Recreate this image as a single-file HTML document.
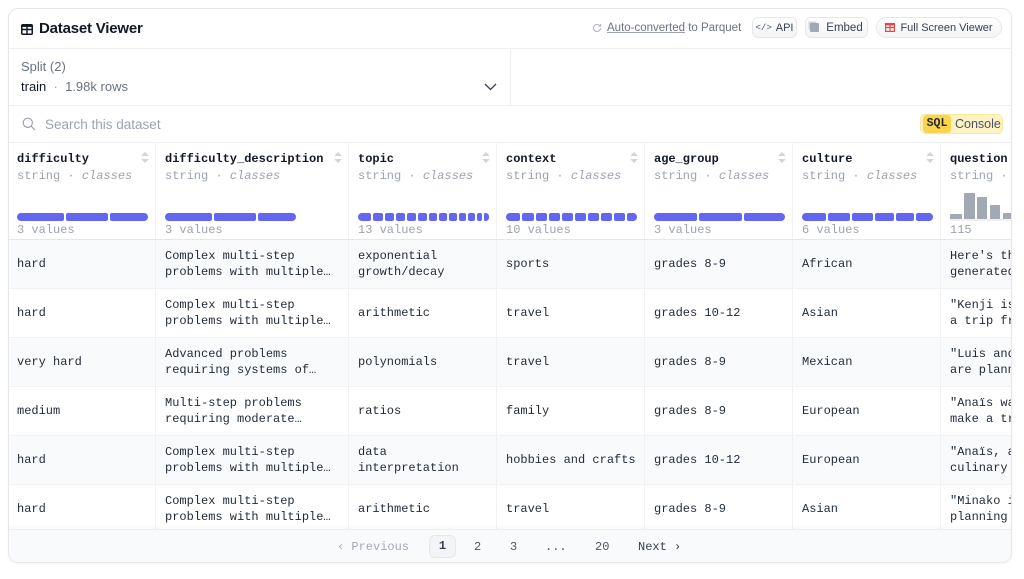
<!DOCTYPE html>
<html><head><meta charset="utf-8"><style>
*{box-sizing:border-box;margin:0;padding:0}
body{width:1024px;height:579px;background:#fff;position:relative;overflow:hidden;font-family:"Liberation Sans",sans-serif;color:#111827}
.card{position:absolute;left:8px;top:8px;width:1004px;height:555px;overflow:hidden;border-radius:10px;background:#fff}
.cardb{position:absolute;left:8px;top:8px;width:1004px;height:555px;border:1px solid #e5e7eb;border-radius:10px;pointer-events:none;box-shadow:0 1px 2px rgba(0,0,0,0.04)}
.a{position:absolute;white-space:nowrap}
.hl{position:absolute;left:0;width:1004px;height:1px;background:#eceef1}
.mono{font-family:"Liberation Mono",monospace;font-size:12px;line-height:16px}
.row{position:absolute;left:0;width:1300px;height:49px;display:flex;border-bottom:1px solid #f1f2f4}
.row.g{background:#f9fafb}
.c{flex-shrink:0;height:100%;border-right:1px solid #f1f2f4;padding:0 9px;display:flex;align-items:center;white-space:pre;color:#1f2937;overflow:hidden}
.w1{width:148px}.w2{width:193px}.w3{width:148px}.w4{width:148px}.w5{width:148px}.w6{width:148px}.w7{width:200px}
.hdr{position:absolute;left:0;top:134px;width:1300px;height:98px;display:flex;border-bottom:1px solid #e5e7eb;box-shadow:0 1px 2px rgba(0,0,0,0.03)}
.hc{flex-shrink:0;height:100%;border-right:1px solid #f1f2f4;position:relative}
.nm{position:absolute;left:9px;top:9px;font-weight:bold;color:#111827}
.ty{position:absolute;left:9px;top:26px;color:#9ca3af}
.ty i{font-style:italic}
.vl{position:absolute;left:9px;top:80px;color:#9ca3af}
.bar{position:absolute;left:9px;top:71px;height:8px;display:flex;gap:2px}
.bar span{display:block;flex-shrink:0;height:8px;background:#6366f1;border-radius:2px}
.bar span:first-child{border-radius:4px 2px 2px 4px}
.bar span:last-child{border-radius:2px 4px 4px 2px}
.sort{position:absolute;right:6px;top:10px;width:8px;height:11px}
.btn{position:absolute;top:9px;height:21px;border:1px solid #e5e7eb;border-radius:6px;background:linear-gradient(#fff,#f3f4f6);font-size:11.5px;color:#374151;display:flex;align-items:center;justify-content:center;padding:0;gap:5px;white-space:nowrap}
.btn *{flex-shrink:0}
</style></head><body>
<div class="card">
  <!-- header -->
  <svg class="a" style="left:13px;top:16px" width="12" height="11" viewBox="0 0 12 11"><rect x="0.75" y="0.75" width="10.5" height="9.5" rx="1" fill="none" stroke="#111827" stroke-width="1.5"/><line x1="0.75" y1="5.5" x2="11.25" y2="5.5" stroke="#111827" stroke-width="1.4"/><line x1="6" y1="0.75" x2="6" y2="10.25" stroke="#111827" stroke-width="1.4"/><rect x="0.75" y="0.75" width="10.5" height="2.2" fill="#111827"/></svg>
  <div class="a" style="left:31px;top:12px;font-size:15px;font-weight:bold;line-height:18px;color:#111827;letter-spacing:-0.2px">Dataset Viewer</div>
  <svg class="a" style="left:584px;top:15px" width="10" height="10" viewBox="0 0 10 10"><path d="M8.5 5a3.5 3.5 0 1 1-1-2.5" fill="none" stroke="#b6bbc4" stroke-width="1.2"/><path d="M8.6 1v2.2H6.4" fill="none" stroke="#b6bbc4" stroke-width="1.2"/></svg>
  <div class="a" style="left:599px;top:13px;font-size:11.5px;line-height:14px;color:#6b7280"><span style="text-decoration:underline;text-decoration-color:#9ca3af">Auto-converted</span> to Parquet</div>
  <div class="btn" style="left:744px;width:45px;gap:4px"><span style="font-family:'Liberation Mono',monospace;font-size:9px;color:#4b5563">&lt;/&gt;</span><span style="font-size:11px">API</span></div>
  <div class="btn" style="left:797px;width:63px;gap:7px"><span style="display:inline-block;width:9px;height:9px;background:#a3a9b4;border-radius:1px;box-shadow:-2px -2px 0 -0.5px #d1d5db"></span><span>Embed</span></div>
  <div class="btn" style="left:868px;width:126px;border-radius:11px;gap:5px"><svg width="10" height="9" viewBox="0 0 10 9"><rect x="0.6" y="0.6" width="8.8" height="7.8" fill="none" stroke="#ef4444" stroke-width="1.2"/><line x1="0.6" y1="4.5" x2="9.4" y2="4.5" stroke="#ef4444" stroke-width="1.2"/><line x1="5" y1="0.6" x2="5" y2="8.4" stroke="#ef4444" stroke-width="1.2"/><rect x="0.6" y="0.6" width="8.8" height="1.8" fill="#ef4444"/></svg><span style="font-size:11px">Full Screen Viewer</span></div>
  <div class="hl" style="top:40px"></div>
  <!-- split -->
  <div class="a" style="left:13px;top:51px;font-size:13px;line-height:16px;color:#6b7280">Split (2)</div>
  <div class="a" style="left:13px;top:71px;font-size:13px;line-height:16px;color:#111827">train <span style="color:#9ca3af">&nbsp;·&nbsp;</span> <span style="color:#6b7280">1.98k rows</span></div>
  <svg class="a" style="left:476px;top:75px" width="13" height="8" viewBox="0 0 13 8"><path d="M1 1l5.5 5.5L12 1" fill="none" stroke="#374151" stroke-width="1.3"/></svg>
  <div class="a" style="left:502px;top:40px;width:1px;height:57px;background:#eceef1"></div>
  <div class="hl" style="top:97px"></div>
  <!-- search -->
  <svg class="a" style="left:14px;top:109px" width="14" height="14" viewBox="0 0 14 14"><circle cx="5.8" cy="5.8" r="4.6" fill="none" stroke="#9ca3af" stroke-width="1.2"/><line x1="9.2" y1="9.2" x2="13" y2="13" stroke="#9ca3af" stroke-width="1.2"/></svg>
  <div class="a" style="left:37px;top:108px;font-size:13.5px;line-height:17px;color:#9ca3af">Search this dataset</div>
  <div class="a" style="left:912px;top:106px;width:83px;height:20px;border-radius:5px;background:#fdf2c4;border:1px solid #fbe8a0"></div>
  <div class="a" style="left:915px;top:107px;width:28px;height:18px;border-radius:4px;background:#fcd34d;font-family:'Liberation Mono',monospace;font-weight:bold;font-size:11.5px;line-height:18px;text-align:center;color:#1f2937">SQL</div>
  <div class="a" style="left:947px;top:109px;font-size:12.5px;line-height:15px;color:#4b5563">Console</div>
  <div class="hl" style="top:134px"></div>

  <!-- table header -->
  <div class="hdr mono">
    <div class="hc w1"><div class="nm">difficulty</div><div class="ty">string · <i>classes</i></div>
      <svg class="sort" viewBox="0 0 8 11"><path d="M4 0L8 4H0z" fill="#d1d5db"/><path d="M4 11L8 7H0z" fill="#d1d5db"/></svg>
      <div class="bar"><span style="width:47px"></span><span style="width:42px"></span><span style="width:38px"></span></div><div class="vl">3 values</div></div>
    <div class="hc w2"><div class="nm">difficulty_description</div><div class="ty">string · <i>classes</i></div>
      <svg class="sort" viewBox="0 0 8 11"><path d="M4 0L8 4H0z" fill="#d1d5db"/><path d="M4 11L8 7H0z" fill="#d1d5db"/></svg>
      <div class="bar"><span style="width:47px"></span><span style="width:42px"></span><span style="width:38px"></span></div><div class="vl">3 values</div></div>
    <div class="hc w3"><div class="nm">topic</div><div class="ty">string · <i>classes</i></div>
      <svg class="sort" viewBox="0 0 8 11"><path d="M4 0L8 4H0z" fill="#d1d5db"/><path d="M4 11L8 7H0z" fill="#d1d5db"/></svg>
      <div class="bar"><span style="width:13px"></span><span style="width:10px"></span><span style="width:9px"></span><span style="width:9px"></span><span style="width:9px"></span><span style="width:9px"></span><span style="width:8px"></span><span style="width:8px"></span><span style="width:8px"></span><span style="width:7px"></span><span style="width:7px"></span><span style="width:5px"></span><span style="width:5px"></span></div><div class="vl">13 values</div></div>
    <div class="hc w4"><div class="nm">context</div><div class="ty">string · <i>classes</i></div>
      <svg class="sort" viewBox="0 0 8 11"><path d="M4 0L8 4H0z" fill="#d1d5db"/><path d="M4 11L8 7H0z" fill="#d1d5db"/></svg>
      <div class="bar"><span style="width:14px"></span><span style="width:12px"></span><span style="width:11px"></span><span style="width:11px"></span><span style="width:11px"></span><span style="width:11px"></span><span style="width:11px"></span><span style="width:11px"></span><span style="width:11px"></span><span style="width:10px"></span></div><div class="vl">10 values</div></div>
    <div class="hc w5"><div class="nm">age_group</div><div class="ty">string · <i>classes</i></div>
      <svg class="sort" viewBox="0 0 8 11"><path d="M4 0L8 4H0z" fill="#d1d5db"/><path d="M4 11L8 7H0z" fill="#d1d5db"/></svg>
      <div class="bar"><span style="width:43px"></span><span style="width:43px"></span><span style="width:41px"></span></div><div class="vl">3 values</div></div>
    <div class="hc w6"><div class="nm">culture</div><div class="ty">string · <i>classes</i></div>
      <svg class="sort" viewBox="0 0 8 11"><path d="M4 0L8 4H0z" fill="#d1d5db"/><path d="M4 11L8 7H0z" fill="#d1d5db"/></svg>
      <div class="bar"><span style="width:24px"></span><span style="width:22px"></span><span style="width:21px"></span><span style="width:19px"></span><span style="width:18px"></span><span style="width:17px"></span></div><div class="vl">6 values</div></div>
    <div class="hc w7"><div class="nm">question</div><div class="ty">string · <i>lengths</i></div>
      <div class="a" style="left:9px;top:77px;width:70px;height:2px;background:#eef0f2"></div>
      <div class="a" style="left:9px;top:72px;width:12px;height:5px;background:#a3a9b4;border-radius:1px 1px 0 0"></div>
      <div class="a" style="left:23px;top:51px;width:11px;height:26px;background:#a3a9b4;border-radius:1px 1px 0 0"></div>
      <div class="a" style="left:36px;top:55px;width:10px;height:22px;background:#a3a9b4;border-radius:1px 1px 0 0"></div>
      <div class="a" style="left:49px;top:63px;width:10px;height:14px;background:#a3a9b4;border-radius:1px 1px 0 0"></div>
      <div class="a" style="left:62px;top:71px;width:10px;height:6px;background:#a3a9b4;border-radius:1px 1px 0 0"></div>
      <div class="vl">115</div></div>
  </div>

  <!-- rows -->
  <div class="row g mono" style="top:232px"><div class="c w1">hard</div><div class="c w2">Complex multi-step
problems with multiple…</div><div class="c w3">exponential
growth/decay</div><div class="c w4">sports</div><div class="c w5">grades 8-9</div><div class="c w6">African</div><div class="c w7">Here's the
generated</div></div>
  <div class="row mono" style="top:281px"><div class="c w1">hard</div><div class="c w2">Complex multi-step
problems with multiple…</div><div class="c w3">arithmetic</div><div class="c w4">travel</div><div class="c w5">grades 10-12</div><div class="c w6">Asian</div><div class="c w7">"Kenji is
a trip fr</div></div>
  <div class="row g mono" style="top:330px"><div class="c w1">very hard</div><div class="c w2">Advanced problems
requiring systems of…</div><div class="c w3">polynomials</div><div class="c w4">travel</div><div class="c w5">grades 8-9</div><div class="c w6">Mexican</div><div class="c w7">"Luis and
are plann</div></div>
  <div class="row mono" style="top:379px"><div class="c w1">medium</div><div class="c w2">Multi-step problems
requiring moderate…</div><div class="c w3">ratios</div><div class="c w4">family</div><div class="c w5">grades 8-9</div><div class="c w6">European</div><div class="c w7">"Anaïs wa
make a tr</div></div>
  <div class="row g mono" style="top:428px"><div class="c w1">hard</div><div class="c w2">Complex multi-step
problems with multiple…</div><div class="c w3">data
interpretation</div><div class="c w4">hobbies and crafts</div><div class="c w5">grades 10-12</div><div class="c w6">European</div><div class="c w7">"Anaïs, a
culinary</div></div>
  <div class="row mono" style="top:477px"><div class="c w1">hard</div><div class="c w2">Complex multi-step
problems with multiple…</div><div class="c w3">arithmetic</div><div class="c w4">travel</div><div class="c w5">grades 8-9</div><div class="c w6">Asian</div><div class="c w7">"Minako i
planning</div></div>

  <!-- pagination -->
  <div class="a" style="left:0;top:521px;width:1004px;height:34px;background:#f9fafb;border-top:1px solid #eceef1;box-shadow:0 -2px 4px rgba(0,0,0,0.03)"></div>
  <div class="a mono" style="left:329px;top:531px;color:#a3a9b4;font-size:12px">‹ Previous</div>
  <div class="a mono" style="left:421px;top:527px;width:27px;height:23px;border:1px solid #e5e7eb;border-radius:6px;background:#f3f4f6;text-align:center;line-height:21px;font-weight:bold;color:#374151">1</div>
  <div class="a mono" style="left:466px;top:531px;color:#4b5563">2</div>
  <div class="a mono" style="left:502px;top:531px;color:#4b5563">3</div>
  <div class="a mono" style="left:537px;top:531px;color:#4b5563">...</div>
  <div class="a mono" style="left:587px;top:531px;color:#4b5563">20</div>
  <div class="a mono" style="left:630px;top:531px;color:#374151">Next ›</div>
</div>
<div class="cardb"></div>
</body></html>
